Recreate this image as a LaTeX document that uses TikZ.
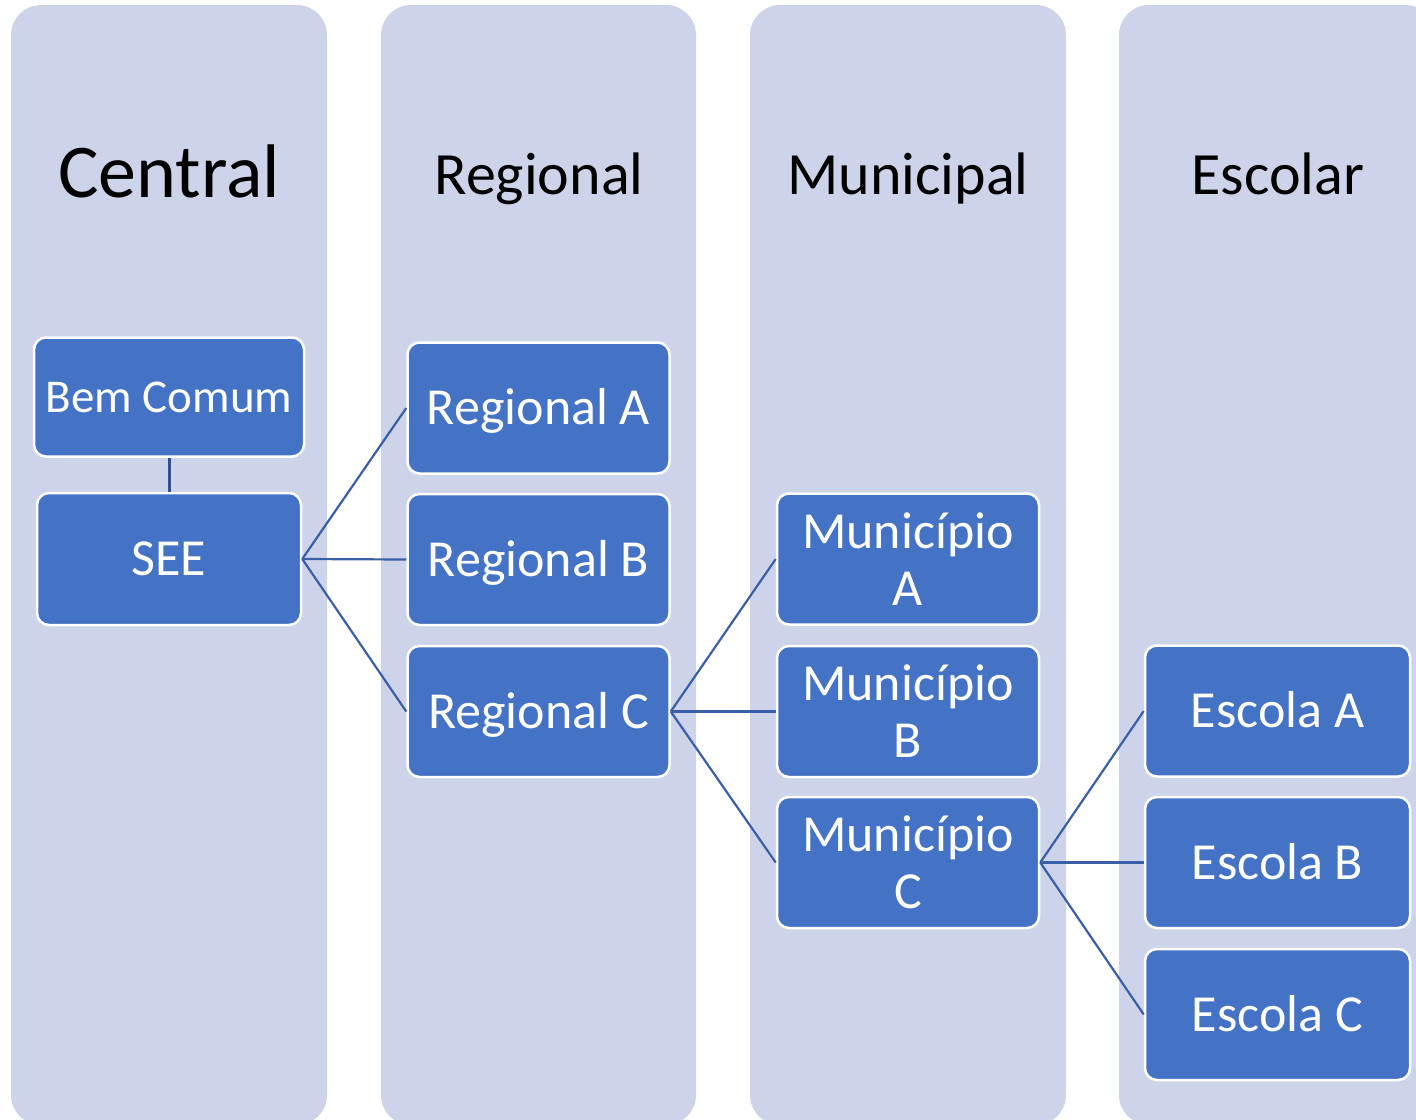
\documentclass[tikz,border=0pt]{standalone}
\usepackage{fontspec}
\setmainfont{Carlito}
\definecolor{colbg}{HTML}{CDD4EA}
\definecolor{boxfill}{HTML}{4472C4}
\definecolor{linec}{HTML}{3A5FA6}
\definecolor{linedark}{HTML}{2F528F}
\begin{document}
\begin{tikzpicture}[x=1pt,y=-1pt,
  column/.style={fill=colbg,draw=none,rounded corners=30pt},
  title/.style={anchor=base,font=\fontsize{60}{66}\selectfont,text=black,inner sep=0pt},
  box/.style={fill=boxfill,draw=white,line width=2.5pt,rounded corners=12pt,
    text=white,font=\fontsize{52}{57}\selectfont,minimum width=262pt,minimum height=131pt,
    inner sep=0pt,text height=33.5pt,text depth=0pt},
  boxtwo/.style={fill=boxfill,draw=white,line width=2.5pt,rounded corners=12pt,
    text=white,font=\fontsize{52}{57}\selectfont,minimum width=262pt,minimum height=131pt,
    inner sep=0pt,align=center},
  conn/.style={draw=linec,line width=2.2pt},
]
\useasboundingbox (0,0) rectangle (1416,1119);
% columns
\fill[column] (11,5) rectangle (327,1125);
\fill[column] (381,5) rectangle (696,1125);
\fill[column] (750,5) rectangle (1066,1125);
\fill[column] (1119,5) rectangle (1435,1125);
% titles
\node[title,font=\fontsize{76}{82}\selectfont] (tcentral) at (169,197) {Central};
\node[title] (tregional) at (539,194) {Regional};
\node[title] (tmunicipal) at (908,194) {Municipal};
\node[title] (tescolar) at (1278,194) {Escolar};
% boxes
\node[box,minimum width=270pt,minimum height=119pt,font=\fontsize{47}{52}\selectfont,text height=30.3pt] (bem) at (169,397) {Bem Comum};
\node[box,minimum width=264pt,minimum height=132pt] (see) at (169,559) {SEE};
\node[box] (ra) at (538.5,408) {Regional A};
\node[box] (rb) at (538.5,559.5) {Regional B};
\node[box] (rc) at (538.5,711.5) {Regional C};
\node[boxtwo] (ma) at (908,559) {Município\\A};
\node[boxtwo] (mb) at (908,711.5) {Município\\B};
\node[boxtwo] (mc) at (908,862.5) {Município\\C};
\node[box,minimum width=265pt] (ea) at (1277.5,711) {Escola A};
\node[box,minimum width=265pt] (eb) at (1277.5,862.5) {Escola B};
\node[box,minimum width=265pt] (ec) at (1277.5,1014.5) {Escola C};
% connectors
\draw[draw=linedark,line width=3pt] (bem.south) -- (see.north);
\draw[conn] (see.east) -- (ra.west);
\draw[conn] (see.east) -- (rb.west);
\draw[conn] (see.east) -- (rc.west);
\draw[conn] (rc.east) -- (ma.west);
\draw[conn] (rc.east) -- (mb.west);
\draw[conn] (rc.east) -- (mc.west);
\draw[conn] (mc.east) -- (ea.west);
\draw[conn] (mc.east) -- (eb.west);
\draw[conn] (mc.east) -- (ec.west);
\end{tikzpicture}
\end{document}
